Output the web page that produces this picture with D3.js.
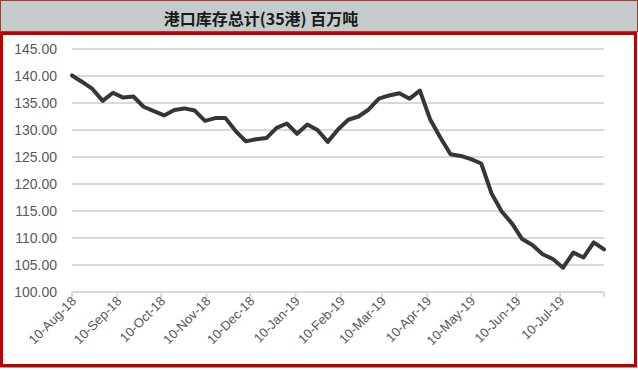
<!DOCTYPE html>
<html><head><meta charset="utf-8">
<script src="https://cdn.jsdelivr.net/npm/d3@7"></script>
<style>
html,body{margin:0;padding:0;background:#fff;}
svg{display:block;}
</style></head>
<body>
<svg id="chart" width="638" height="370"></svg>
<script>
const title = "港口库存总计(35港) 百万吨";
const startDate = "2018-08-10";
const stocks = [140.1,138.9,137.6,135.4,136.9,136.0,136.2,134.3,133.5,132.7,
  133.7,134.0,133.6,131.7,132.2,132.2,129.8,127.9,128.3,128.5,
  130.4,131.2,129.3,131.0,130.0,127.8,130.1,131.9,132.5,133.8,
  135.8,136.4,136.8,135.8,137.3,132.0,128.6,125.5,125.2,124.6,
  123.8,118.3,114.9,112.7,109.8,108.7,107.0,106.1,104.5,107.3,
  106.4,109.2,107.9];
const tickDates = ["2018-08-10","2018-09-10","2018-10-10","2018-11-10","2018-12-10","2019-01-10",
  "2019-02-10","2019-03-10","2019-04-10","2019-05-10","2019-06-10","2019-07-10"];
const tickLabels = ["10-Aug-18","10-Sep-18","10-Oct-18","10-Nov-18","10-Dec-18","10-Jan-19",
  "10-Feb-19","10-Mar-19","10-Apr-19","10-May-19","10-Jun-19","10-Jul-19"];
const yTicks = [100,105,110,115,120,125,130,135,140,145];

const parse = d3.utcParse("%Y-%m-%d");
const t0 = parse(startDate);
const data = stocks.map((v,i)=>({date:d3.utcDay.offset(t0, 7*i), value:v}));

const svg = d3.select("#chart");
// title bar
svg.append("rect").attr("x",0.5).attr("y",0.5).attr("width",637).attr("height",31)
  .attr("fill","#c3cccb").attr("stroke","#a8382c").attr("stroke-width",1);
svg.append("text").attr("x",261).attr("y",25).attr("text-anchor","middle")
  .attr("font-family","'Noto Sans CJK SC', sans-serif").attr("font-weight","bold")
  .attr("font-size",16).attr("fill","#1a1a1a").text(title);
// frame
svg.append("rect").attr("x",1.5).attr("y",33.5).attr("width",634).attr("height",332)
  .attr("fill","#fff").attr("stroke","#c00000").attr("stroke-width",3);
svg.append("line").attr("x1",0).attr("x2",638).attr("y1",367.5).attr("y2",367.5)
  .attr("stroke","#a0a0a0").attr("stroke-width",1);

const x = d3.scaleUtc().domain([t0, data[data.length-1].date]).range([72,604]);
const y = d3.scaleLinear().domain([100,145]).range([292,49]);

// gridlines
svg.append("g").selectAll("line").data(yTicks).join("line")
  .attr("x1",72).attr("x2",604).attr("y1",d=>y(d)).attr("y2",d=>y(d))
  .attr("stroke","#d9d9d9").attr("stroke-width",2);

// y labels
svg.append("g").selectAll("text").data(yTicks).join("text")
  .attr("x",57).attr("y",d=>y(d)+5).attr("text-anchor","end")
  .attr("font-family","'Liberation Sans', Arial, sans-serif").attr("font-size",14)
  .attr("fill","#595959").text(d=>d.toFixed(2));

// x axis ticks
const tickPos = tickDates.map(s=>x(parse(s))).concat([x.range()[1]]);
svg.append("g").selectAll("line").data(tickPos).join("line")
  .attr("x1",d=>d).attr("x2",d=>d).attr("y1",292).attr("y2",297)
  .attr("stroke","#d9d9d9").attr("stroke-width",2);

svg.append("g").selectAll("text").data(tickLabels).join("text")
  .attr("transform",(d,i)=>`translate(${x(parse(tickDates[i]))+5},${302}) rotate(-45)`)
  .attr("text-anchor","end")
  .attr("font-family","'Liberation Sans', Arial, sans-serif").attr("font-size",13)
  .attr("fill","#595959").text(d=>d);

// line
svg.append("path").datum(data)
  .attr("d", d3.line().x(d=>x(d.date)).y(d=>y(d.value)))
  .attr("fill","none").attr("stroke","#363636").attr("stroke-width",4)
  .attr("stroke-linejoin","round").attr("stroke-linecap","round");
</script>
</body></html>
